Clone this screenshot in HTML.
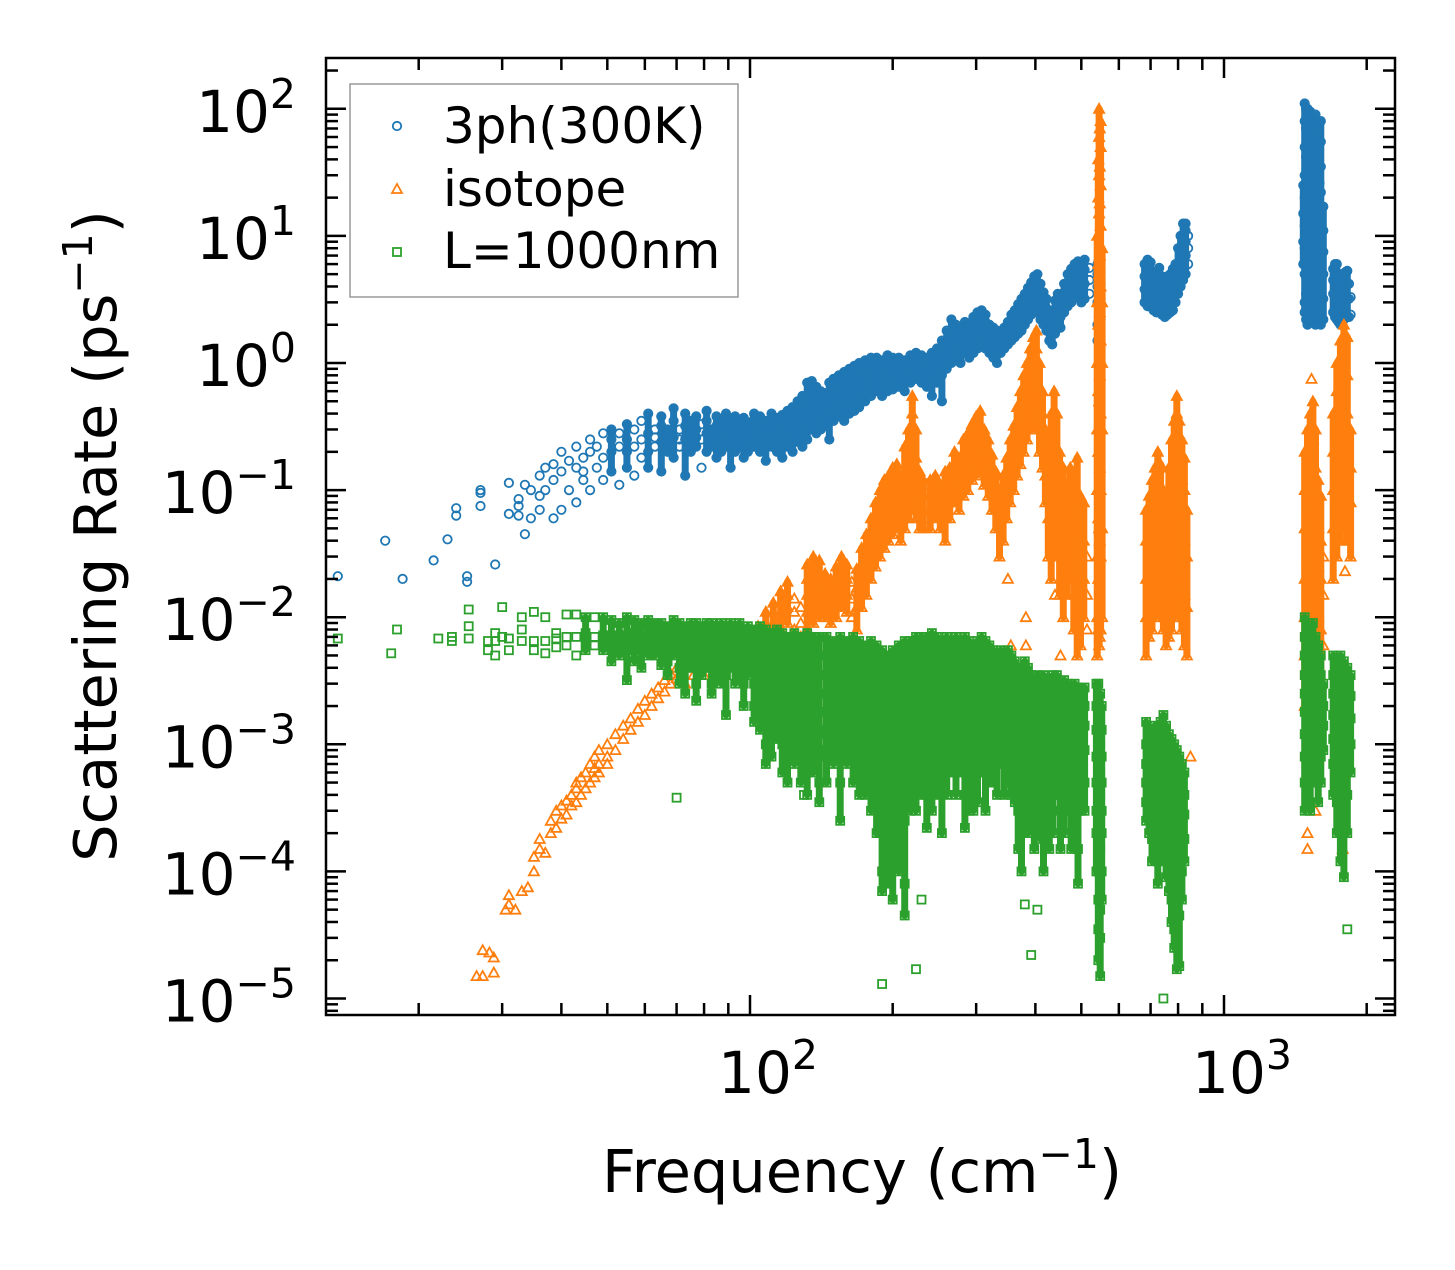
<!DOCTYPE html>
<html><head><meta charset="utf-8"><style>
html,body{margin:0;padding:0;background:#fff}
svg text{font-family:"DejaVu Sans","Liberation Sans",sans-serif;fill:#000}
</style></head><body>
<svg id="chart" width="1455" height="1265" viewBox="0 0 1455 1265" xmlns="http://www.w3.org/2000/svg">
<rect width="1455" height="1265" fill="#fff"/>
<g id="marks"></g>
<g id="axes"></g>
<g id="legend">
  <rect x="350" y="84" width="388" height="213" fill="#fff" fill-opacity="0.85" stroke="#999" stroke-width="1.5"/>
  <g>
    <circle cx="397" cy="126" r="4.2" fill="none" stroke="#1f77b4" stroke-width="1.8"/>
    <text x="443" y="143" font-size="50">3ph(300K)</text>
  </g>
  <g>
    <polygon points="397,184 392,193 402,193" fill="none" stroke="#ff7f0e" stroke-width="1.8"/>
    <text x="443" y="206" font-size="50">isotope</text>
  </g>
  <g>
    <rect x="393" y="248" width="8" height="8" fill="none" stroke="#2ca02c" stroke-width="1.8"/>
    <text x="443" y="268" font-size="50">L=1000nm</text>
  </g>
</g>
<text x="862" y="1192" font-size="59" text-anchor="middle">Frequency (cm<tspan dy="-24" font-size="41">−1</tspan><tspan dy="24">)</tspan></text>
<text transform="translate(116,536) rotate(-90)" font-size="59" text-anchor="middle">Scattering Rate (ps<tspan dy="-24" font-size="41">−1</tspan><tspan dy="24">)</tspan></text>
</svg>
<script>
// ---- data: [frequency, rate, rate, ...] rows ----
const threePhRows = [[13.5,0.021],[17,0.04],[18.5,0.02],[21.5,0.028],[23,0.041],[24,0.063,0.072],[25.3,0.021,0.019],[27,0.095,0.075,0.1],[29,0.026],[31,0.114,0.065],[32.5,0.063,0.075,0.085],[33.5,0.045,0.11],[34.5,0.06,0.1],[36,0.07,0.13,0.09],[37,0.15,0.1],[38.5,0.06,0.12,0.16],[40,0.07,0.14,0.2],[41.5,0.1,0.17],[43,0.08,0.15,0.22],[44.5,0.12,0.18,0.14],[46,0.1,0.2,0.25],[47.5,0.15,0.22],[49,0.12,0.18,0.28],[51,0.14,0.2,0.25,0.3],[53,0.11,0.22,0.28],[55,0.15,0.25,0.2,0.33],[57,0.13,0.22,0.3],[59,0.18,0.25,0.35],[61,0.2,0.28,0.15,0.4],[63,0.22,0.3,0.26],[65,0.14,0.24,0.32,0.38],[67,0.2,0.27,0.3,0.22],[69,0.18,0.26,0.35,0.44],[71,0.22,0.3,0.25],[73,0.13,0.25,0.32,0.4],[75,0.2,0.28,0.35,0.23],[77,0.22,0.3,0.26,0.38],[79,0.15,0.25,0.33],[81,0.2,0.28,0.35,0.42],[83,0.24,0.3,0.27,0.22],[85,0.18,0.26,0.32,0.38],[87,0.2,0.3,0.35,0.25],[89,0.22,0.28,0.33,0.4],[91,0.15,0.25,0.3,0.36],[93,0.2,0.27,0.32,0.38],[95,0.22,0.3,0.35,0.26],[97,0.18,0.26,0.31,0.37],[99,0.2,0.28,0.34,0.24],[102,0.22,0.3,0.36,0.4],[105,0.2,0.27,0.32,0.38],[108,0.17,0.25,0.3,0.35],[111,0.22,0.28,0.34,0.4],[114,0.2,0.26,0.32,0.37],[117,0.18,0.27,0.33,0.39],[120,0.22,0.3,0.36,0.42],[123,0.2,0.28,0.35,0.45],[126,0.24,0.3,0.38,0.5],[129,0.22,0.32,0.4,0.55],[132,0.25,0.35,0.45,0.7],[135,0.3,0.4,0.55,0.72],[138,0.28,0.4,0.5,0.65],[141,0.3,0.42,0.55,0.6],[144,0.32,0.45,0.5,0.58],[147,0.25,0.4,0.55,0.7],[150,0.35,0.48,0.6,0.75],[154,0.38,0.5,0.65,0.8],[158,0.35,0.52,0.68,0.85],[162,0.4,0.55,0.7,0.9],[166,0.42,0.6,0.75,0.95],[170,0.45,0.62,0.8,1.0],[175,0.5,0.7,0.85,1.05],[180,0.55,0.75,0.9,1.1],[185,0.6,0.8,0.95,1.1],[190,0.55,0.75,0.9,1.05],[195,0.6,0.8,1.0,1.15],[200,0.62,0.85,1.0,1.1],[206,0.65,0.8,0.95,1.1],[212,0.6,0.75,0.9,1.05],[218,0.7,0.85,1.0,1.15],[224,0.75,0.9,1.05,1.2],[230,0.7,0.85,1.0,1.15],[236,0.65,0.8,0.95,1.1],[242,0.55,0.75,0.9,1.2],[248,0.7,0.9,1.1,1.3],[254,0.5,0.8,1.2,1.5],[260,0.9,1.1,1.4,1.8],[266,1.0,1.2,1.5,2.2],[272,1.1,1.4,1.7,2.0],[278,1.0,1.3,1.6,1.9],[284,1.2,1.5,1.8,2.1],[290,1.1,1.4,1.7,2.0],[296,1.2,1.5,1.9,2.3],[302,1.3,1.6,2.0,2.5],[308,1.4,1.8,2.2,2.6],[314,1.3,1.7,2.1,2.4],[320,1.2,1.5,1.8,2.0],[326,1.1,1.4,1.7,1.9],[332,1.0,1.3,1.6,1.8],[338,1.2,1.4,1.6,1.7],[344,1.3,1.5,1.7,1.9],[350,1.4,1.6,1.9,2.1],[356,1.5,1.8,2.1,2.4],[362,1.6,1.9,2.3,2.6],[368,1.7,2.0,2.5,2.9],[374,1.8,2.2,2.7,3.2],[380,2.0,2.4,3.0,3.5],[386,2.2,2.7,3.3,3.9],[392,2.4,3.0,3.6,4.3],[398,2.6,3.3,4.0,4.8],[404,2.5,3.2,4.2,5.0],[410,2.2,2.8,3.5,4.2],[416,2.0,2.5,3.0,3.6],[422,1.8,2.2,2.7,3.2],[428,1.5,1.8,2.2,2.6],[434,1.4,1.7,2.0,2.3],[440,1.7,2.1,2.6,3.1],[446,2.0,2.5,3.0,3.5],[452,1.9,2.3,2.8,3.2],[460,2.5,3.0,3.6,4.2],[468,2.8,3.4,4.2,5.0],[476,3.0,3.8,4.6,5.5],[484,3.3,4.2,5.2,6.0],[492,3.5,4.5,5.5,6.3],[500,3.0,4.0,5.0,6.0],[508,3.2,4.2,5.4,6.5],[520,3.5,4.5,5.6],[541,1.5,2.0,3.0,4.0,5.0,6.0],[545,1.2,1.6,2.5,3.5,4.5,5.5],[549,1.4,2.2,3.2,4.2,5.2],[680,3,3.8,4.8,6],[690,2.8,3.5,4.5,5.5,6.5],[700,3,4,5,6.2],[710,2.6,3.3,4.2,5.2],[720,2.5,3.1,4,5],[730,2.8,3.6,4.5,5.6],[740,2.4,3,3.8,4.8],[750,2.3,2.9,3.6,4.6],[760,2.4,3,3.8,4.8],[770,2.5,3.2,4,5],[780,2.6,3.4,4.4,5.5],[790,3,4,5,6],[800,3.5,4.5,6,8],[810,4,5.5,7.5,10],[820,4.5,6,8,10,12.5],[830,5,7,9,11,12.5],[840,6,8,10],[1470,6,9,15,25],[1480,2.5,3,5,8,12,20,30,50,80,110],[1490,2.2,3.5,6,10,16,26,42,70,100],[1500,2,3,4,6,9,15,25,40,60,100],[1510,2.4,3.8,5.5,8,13,21,33,52,85],[1520,2.2,3.5,5,7,11,18,28,45,70,95],[1530,2.6,4.2,6.5,10,16,25,38,60],[1540,2.5,4,6,9,14,22,35,55,85],[1550,2.1,3.2,5,7.5,12,19,30,48,75],[1560,2,3,4.5,7,10,16,25,40,65,90],[1570,2.4,3.6,5.5,8.5,13,21,34],[1580,2.3,3.5,5,8,12,19,30,48,75],[1590,2.1,3,4.5,7,10,16,26],[1600,2,2.8,4,6,9,14,22,35,55,80],[1610,2.2,3.2,5,7.5,11],[1620,2.2,3.2,5,7.5,11,17],[1700,2.5,3.5,4.5,5.5],[1715,2.3,3.2,4.2,5.2,6],[1730,2.2,3,4,5,6],[1745,2.1,2.9,3.9,5],[1760,2,2.8,3.8,5],[1775,2.1,2.9,3.9,5],[1790,2.2,3,4,5],[1805,2.3,3.1,4.1,5.2],[1820,2.3,3.2,4.2,5.3],[1835,2.3,3.2,4.2],[1850,2.4,3.3]];

const isotopeRows = [[26.5,1.5e-5],[27.3,1.5e-5,2.4e-5],[28.2,2.3e-5],[28.8,1.6e-5,2.1e-5],[30.5,5e-5],[31,5.5e-5,6.5e-5],[32,5e-5],[33,7e-5],[34,7.5e-5],[35,1e-4,1.3e-4],[36,1.5e-4,1.8e-4],[37,1.4e-4],[38,2.5e-4,2e-4],[39,2.2e-4,3e-4],[40,3.3e-4,2.6e-4],[41,2.8e-4,3.6e-4],[42,4e-4,3.3e-4],[43,4.5e-4,3.5e-4,5e-4],[44,4e-4,5.5e-4],[45,6e-4,4.5e-4],[46,5e-4,7e-4],[47,5.5e-4,6.5e-4,8e-4],[48,7e-4,6e-4,9e-4],[50,8e-4,1e-3,7e-4],[52,9e-4,1.2e-3],[54,1.1e-3,1.4e-3],[56,1.3e-3,1.6e-3],[58,1.5e-3,1.9e-3],[60,1.7e-3,2.2e-3],[62,2e-3,2.5e-3],[64,2.3e-3,2.8e-3],[66,2.6e-3,3.2e-3],[68,3e-3,3.6e-3],[70,3.3e-3,4e-3],[73,3e-3,4e-3,4.5e-3],[76,3.5e-3,4.5e-3,5e-3],[80,3.5e-3,4.5e-3,5.5e-3],[84,4e-3,5e-3,6e-3],[88,4e-3,5e-3,6e-3,7e-3],[92,4.5e-3,5.5e-3,6.5e-3],[96,5e-3,6e-3,7e-3],[100,5e-3,6e-3,7.5e-3],[104,5.5e-3,7e-3,8.5e-3],[108,6e-3,7.5e-3,9e-3,1.1e-2],[112,7e-3,9e-3,1.1e-2,1.3e-2],[116,8e-3,1e-2,1.3e-2,1.6e-2],[120,9e-3,1.2e-2,1.5e-2,1.9e-2],[124,8e-3,1.1e-2,1.4e-2],[128,7e-3,9e-3,1.2e-2],[132,8e-3,1.1e-2,1.5e-2,2e-2,2.6e-2],[136,9e-3,1.3e-2,1.8e-2,2.4e-2,3e-2],[140,1e-2,1.4e-2,2e-2,2.8e-2],[144,1e-2,1.3e-2,1.7e-2,2.2e-2],[148,9e-3,1.2e-2,1.6e-2,2e-2],[152,1e-2,1.4e-2,1.9e-2,2.5e-2],[156,1.2e-2,1.7e-2,2.3e-2,3e-2],[160,1.1e-2,1.5e-2,2e-2,2.6e-2],[164,1e-2,1.4e-2,1.9e-2],[168,8e-3,1.2e-2,1.7e-2,2.4e-2],[172,1.2e-2,1.8e-2,2.6e-2,3.5e-2],[176,1.5e-2,2.2e-2,3.2e-2,4.5e-2],[180,2e-2,3e-2,4.2e-2,6e-2],[184,2.5e-2,3.8e-2,5.5e-2,8e-2],[188,3e-2,4.5e-2,6.5e-2,1e-1],[192,3.5e-2,5.5e-2,8e-2,1.2e-1],[196,4e-2,6e-2,9e-2,1.3e-1],[200,4.5e-2,7e-2,1e-1,1.5e-1],[204,5e-2,7.5e-2,1.1e-1,1.6e-1],[208,4e-2,6e-2,9e-2,1.3e-1],[212,5e-2,8e-2,1.3e-1,2.2e-1],[216,6e-2,1e-1,1.8e-1,3e-1],[220,7e-2,1.2e-1,2.2e-1,4e-1,5.5e-1],[224,6e-2,1e-1,1.8e-1,3e-1],[228,5e-2,7e-2,1e-1,1.4e-1],[232,5e-2,7e-2,9e-2,1.2e-1],[236,6e-2,8e-2,1.1e-1],[240,5e-2,7e-2,9e-2,1.2e-1],[246,6e-2,8e-2,1e-1,1.3e-1],[252,5e-2,7e-2,9e-2,1.1e-1],[258,4e-2,6e-2,8e-2,1.1e-1,1.4e-1],[264,6e-2,8e-2,1.1e-1,1.5e-1],[270,8e-2,1.1e-1,1.5e-1,2e-1],[276,7e-2,1e-1,1.4e-1,1.8e-1],[282,9e-2,1.3e-1,1.8e-1,2.5e-1],[288,1e-1,1.4e-1,2e-1,2.8e-1],[294,1.2e-1,1.7e-1,2.4e-1,3.3e-1],[300,1.3e-1,1.9e-1,2.7e-1,3.8e-1],[306,1.4e-1,2e-1,3e-1,4.2e-1],[312,1.1e-1,1.6e-1,2.2e-1,3e-1],[318,9e-2,1.3e-1,1.8e-1,2.5e-1],[324,7e-2,1e-1,1.4e-1,1.9e-1],[330,5e-2,7e-2,1e-1,1.4e-1],[336,3e-2,5e-2,7e-2,1e-1],[342,4e-2,6e-2,9e-2,1.3e-1],[348,6e-2,9e-2,1.3e-1,1.8e-1],[350,2e-2],[354,8e-2,1.2e-1,1.8e-1,2.5e-1],[355,6e-3],[360,1e-1,1.5e-1,2.2e-1,3.2e-1],[366,1.3e-1,2e-1,3e-1,4.5e-1],[372,1.6e-1,2.5e-1,4e-1,6e-1],[378,2e-1,3e-1,5e-1,8e-1],[382,6e-3,1e-2],[384,2.5e-1,4e-1,6.5e-1,1.0],[390,3e-1,5e-1,8e-1,1.3],[396,3.5e-1,6e-1,1.0,1.6],[402,3e-1,5e-1,8e-1,1.3,1.8],[408,2e-1,3.5e-1,6e-1,1.0],[414,1.5e-1,2.5e-1,4e-1,6e-1],[420,8e-2,1.3e-1,2e-1,3e-1],[426,3e-2,6e-2,1e-1,1.8e-1],[432,2e-2,4e-2,8e-2,2e-1,4e-1],[438,3e-2,6e-2,1.2e-1,3e-1,6e-1],[440,1.5e-2],[444,5e-2,1e-1,2e-1,4e-1],[450,1.5e-2,3e-2,6e-2,1.2e-1,2e-1],[452,5e-3],[458,1e-2,2e-2,4e-2,8e-2,1.5e-1],[466,1.5e-2,3e-2,6e-2,1.1e-1],[474,2e-2,4e-2,8e-2,1.5e-1],[482,8e-3,1.5e-2,3e-2,6e-2,1.2e-1],[490,5e-3,1e-2,2e-2,5e-2,1e-1,1.8e-1],[498,6e-3,1.2e-2,2.5e-2,5e-2,9e-2],[506,1e-2,2e-2,4e-2,8e-2],[514,8e-3,1.5e-2,3e-2],[540,5e-3,1e-2,3e-2,0.1,0.3,1,3,10],[543,8e-3,2e-2,6e-2,0.2,0.6,2,6,20,40],[545,6e-3,2e-2,5e-2,0.2,0.5,2,5,15,30,60,100],[547,7e-3,4e-2,0.15,0.8,2.5,7,18,35,70],[549,8e-3,3e-2,0.1,0.4,1.5,4,12,25,50,80],[553,1e-2,5e-2,0.3,1,3,8],[685,5e-3,1e-2,2e-2,4e-2,7e-2],[695,7e-3,1.5e-2,3e-2,6e-2,9e-2],[705,8e-3,1.8e-2,4e-2,8e-2,1.2e-1],[715,1e-2,2e-2,5e-2,1e-1,1.5e-1],[720,7e-4,5e-4],[725,1.2e-2,2.5e-2,6e-2,1.2e-1,2e-1],[735,1e-2,2e-2,5e-2,1e-1,1.6e-1],[735,6e-4],[745,8e-3,1.5e-2,3e-2,6e-2,1e-1],[755,6e-3,1.2e-2,2.5e-2,5e-2,8e-2],[765,7e-3,1.5e-2,3.5e-2,8e-2,1.5e-1],[775,8e-3,2e-2,5e-2,1.2e-1,2.5e-1],[785,1e-2,2.5e-2,6e-2,1.5e-1,3.5e-1],[795,1.2e-2,3e-2,8e-2,2e-1,4e-1,5.5e-1],[805,1e-2,2.5e-2,6e-2,1.5e-1,3.5e-1],[815,8e-3,2e-2,5e-2,1.2e-1,2.5e-1],[825,6e-3,1.5e-2,4e-2,1e-1,1.8e-1],[835,5e-3,1.2e-2,3e-2,7e-2],[850,8e-4],[1480,2e-3,5e-3,1e-2,2e-2,5e-2,1e-1,2e-1],[1500,3e-3,8e-3,1.5e-2,3e-2,7e-2,1.5e-1,3e-1],[1500,2e-4,1.5e-4],[1520,4e-3,1e-2,2e-2,4e-2,9e-2,2e-1,4e-1],[1530,0.75],[1540,3e-3,8e-3,1.8e-2,4e-2,1e-1,2.5e-1,5e-1],[1560,5e-3,1.2e-2,3e-2,7e-2,1.5e-1,3e-1],[1560,3e-4],[1580,4e-3,1e-2,2.5e-2,5e-2,1.2e-1],[1600,3e-3,8e-3,2e-2,4e-2,9e-2],[1620,6e-3,1.5e-2,3e-2],[1700,0.02,0.05,0.1,0.2,0.4],[1730,0.03,0.07,0.15,0.3,0.6,1],[1760,0.04,0.1,0.2,0.4,0.8,1.5],[1780,1.5e-4],[1790,0.05,0.12,0.25,0.5,1,2],[1800,0.023],[1810,0.06,0.04],[1820,0.04,0.1,0.2,0.4,0.8,1.6],[1850,0.03,0.08,0.15,0.3]];

const boundaryRows = [[13.5,6.8e-3],[17.5,5.2e-3],[18,8e-3],[22,6.8e-3],[23.5,6.5e-3,7e-3],[25.5,1.15e-2,6.8e-3,8.5e-3],[28,6.5e-3,5.5e-3],[29,5e-3,7.5e-3,6.5e-3],[30,1.2e-2,7e-3],[31,5.5e-3,6.8e-3],[33,1e-2,6.5e-3,8e-3],[35,1.1e-2,6.5e-3,5.5e-3],[37,6.5e-3,5.2e-3,1e-2],[39,6.8e-3,7.5e-3,5.8e-3],[41,1.05e-2,7e-3,6e-3],[43,1.05e-2,7e-3,5e-3],[45,1e-2,6.5e-3,5.5e-3,7.5e-3],[47,1e-2,7e-3,6e-3],[49,1e-2,7.2e-3,5.5e-3,6.5e-3],[51,9.5e-3,7e-3,5.8e-3,4.5e-3],[53,9e-3,7.2e-3,6e-3,5e-3],[55,1e-2,7e-3,5.5e-3,3.2e-3],[57,9.5e-3,7.5e-3,6e-3,4.5e-3],[59,9e-3,7e-3,5.5e-3,4e-3],[61,9.5e-3,7e-3,6e-3,5e-3],[63,9e-3,7.5e-3,6.5e-3,5e-3],[65,9e-3,7e-3,5.5e-3,4.2e-3],[67,8.5e-3,7e-3,6e-3,4.5e-3,3.5e-3],[69,9.5e-3,7.5e-3,6e-3,5e-3],[70,3.8e-4],[71,9e-3,7e-3,5.5e-3,4e-3,3e-3],[73,8.5e-3,7e-3,6e-3,5e-3,2.5e-3],[75,9e-3,7.5e-3,6.5e-3,5e-3,4e-3],[77,9e-3,7e-3,5.5e-3,4e-3,3e-3,2.2e-3],[79,8.5e-3,7e-3,6e-3,4.5e-3,3.5e-3],[81,9e-3,7.5e-3,6e-3,5e-3,4e-3],[83,9e-3,7e-3,5.5e-3,4e-3,3e-3,2.5e-3],[85,8.5e-3,7e-3,6e-3,5e-3,3.5e-3],[87,9e-3,7.5e-3,6e-3,4.5e-3,3e-3],[89,8.5e-3,7e-3,5.5e-3,4e-3,3.5e-3,1.7e-3],[91,9e-3,7e-3,6e-3,5e-3,4e-3],[93,8.5e-3,7e-3,5.5e-3,4.5e-3,3e-3],[95,9e-3,7.5e-3,6e-3,5e-3,3.5e-3],[97,8e-3,6.5e-3,5e-3,4e-3,3e-3,2e-3],[99,8.5e-3,7e-3,5.5e-3,4.5e-3,3.5e-3],[102,8e-3,6.5e-3,5e-3,4e-3,3e-3,2e-3,1.5e-3],[105,8.5e-3,6.5e-3,5e-3,4e-3,3e-3,2.2e-3,1.3e-3],[108,8e-3,6e-3,4.5e-3,3.5e-3,2.5e-3,1.8e-3,1e-3,7e-4],[111,7.5e-3,6e-3,4.5e-3,3.5e-3,2.5e-3,1.8e-3,1.2e-3,8e-4],[114,8e-3,6e-3,4.5e-3,3.5e-3,2.5e-3,1.7e-3,1.1e-3],[117,7.5e-3,5.5e-3,4e-3,3e-3,2.2e-3,1.5e-3,1e-3,6e-4],[120,7e-3,5.5e-3,4e-3,3e-3,2.2e-3,1.5e-3,1e-3,5e-4],[124,7.5e-3,5.5e-3,4e-3,3e-3,2.2e-3,1.6e-3,1.1e-3,7e-4],[128,7e-3,5e-3,3.8e-3,2.8e-3,2e-3,1.4e-3,9e-4,5e-4],[130,4e-4],[132,7.5e-3,5.5e-3,4e-3,3e-3,2.2e-3,1.5e-3,1e-3,6e-4,4e-4],[136,7e-3,5e-3,3.8e-3,2.8e-3,2e-3,1.4e-3,9e-4,6e-4],[140,7e-3,5e-3,3.5e-3,2.5e-3,1.8e-3,1.3e-3,9e-4,5e-4,3.5e-4],[145,7e-3,5e-3,3.5e-3,2.5e-3,1.8e-3,1.2e-3,8e-4,5e-4],[150,6.5e-3,4.5e-3,3.2e-3,2.3e-3,1.6e-3,1.1e-3,7e-4],[155,7e-3,5e-3,3.5e-3,2.5e-3,1.8e-3,1.2e-3,8e-4,5e-4,2.5e-4],[160,6.5e-3,4.5e-3,3.2e-3,2.3e-3,1.6e-3,1.1e-3,7e-4],[165,7e-3,5e-3,3.5e-3,2.5e-3,1.7e-3,1.2e-3,8e-4,5e-4],[170,6.5e-3,4.5e-3,3.2e-3,2.2e-3,1.5e-3,1e-3,7e-4,4e-4],[175,6e-3,4.5e-3,3.2e-3,2.3e-3,1.6e-3,1.1e-3,7e-4,4e-4],[180,6.5e-3,4.5e-3,3.2e-3,2.2e-3,1.5e-3,1e-3,6e-4,3e-4],[185,6e-3,4.2e-3,3e-3,2.1e-3,1.4e-3,9e-4,5e-4,2e-4],[190,5.5e-3,4e-3,2.8e-3,1.9e-3,1.2e-3,7e-4,4e-4,2e-4,1e-4,7e-5],[190,1.3e-5],[195,5e-3,3.5e-3,2.4e-3,1.6e-3,1e-3,6e-4,3e-4,1.5e-4,8e-5],[200,5.5e-3,4e-3,2.8e-3,1.8e-3,1.1e-3,6e-4,3e-4,1.5e-4,6e-5],[206,6e-3,4.2e-3,3e-3,2e-3,1.3e-3,8e-4,4e-4,2e-4,1e-4],[212,6.5e-3,4.5e-3,3.2e-3,2.2e-3,1.4e-3,9e-4,5e-4,2.5e-4,8e-5,4.5e-5],[218,6.5e-3,4.5e-3,3.2e-3,2.2e-3,1.5e-3,1e-3,6e-4,3e-4],[224,7e-3,5e-3,3.5e-3,2.4e-3,1.6e-3,1e-3,6e-4,3e-4],[224,1.7e-5],[230,7e-3,5e-3,3.5e-3,2.5e-3,1.7e-3,1.1e-3,7e-4,4e-4],[230,6e-5],[236,7e-3,5e-3,3.5e-3,2.5e-3,1.7e-3,1.1e-3,7e-4,4e-4,2.2e-4],[242,7.5e-3,5.5e-3,4e-3,2.8e-3,1.9e-3,1.2e-3,8e-4,5e-4,3e-4],[248,7e-3,5e-3,3.5e-3,2.5e-3,1.7e-3,1.1e-3,7e-4,4e-4],[254,6.5e-3,4.5e-3,3.2e-3,2.2e-3,1.5e-3,9e-4,5e-4,2e-4],[260,7e-3,5e-3,3.5e-3,2.5e-3,1.7e-3,1.1e-3,7e-4,4e-4],[266,6.5e-3,4.5e-3,3.2e-3,2.2e-3,1.5e-3,1e-3,6e-4],[272,7e-3,5e-3,3.5e-3,2.5e-3,1.7e-3,1.1e-3,7e-4,4e-4],[278,6.5e-3,4.5e-3,3.2e-3,2.3e-3,1.6e-3,1e-3,6e-4],[284,7e-3,5e-3,3.5e-3,2.5e-3,1.7e-3,1.1e-3,7e-4,4e-4,2.2e-4],[290,6.5e-3,4.5e-3,3.2e-3,2.2e-3,1.5e-3,9e-4,5e-4,3e-4],[296,6e-3,4.2e-3,3e-3,2e-3,1.3e-3,8e-4,5e-4,3e-4],[302,6.5e-3,4.5e-3,3.2e-3,2.2e-3,1.5e-3,1e-3,6e-4,3.5e-4],[308,7e-3,5e-3,3.5e-3,2.5e-3,1.7e-3,1.1e-3,7e-4],[314,6.5e-3,4.5e-3,3.2e-3,2.3e-3,1.6e-3,1e-3,6e-4,3e-4],[320,6e-3,4.2e-3,3e-3,2.1e-3,1.4e-3,9e-4,5e-4],[326,5.5e-3,4e-3,2.8e-3,1.9e-3,1.3e-3,8e-4,5e-4],[332,5e-3,3.5e-3,2.5e-3,1.7e-3,1.1e-3,7e-4,4e-4],[338,5.5e-3,4e-3,2.8e-3,1.9e-3,1.2e-3,8e-4],[344,5e-3,3.5e-3,2.5e-3,1.7e-3,1.1e-3,7e-4,4e-4],[350,5.5e-3,4e-3,2.8e-3,1.9e-3,1.3e-3,8e-4,5e-4],[356,5e-3,3.5e-3,2.5e-3,1.7e-3,1.1e-3,7e-4,4e-4],[362,4.5e-3,3.2e-3,2.2e-3,1.5e-3,1e-3,6e-4,3.5e-4],[368,4e-3,3e-3,2e-3,1.3e-3,8e-4,5e-4,3e-4,1.5e-4],[374,4e-3,2.8e-3,1.9e-3,1.2e-3,7e-4,4e-4,2e-4,1e-4],[380,4.5e-3,3.2e-3,2.2e-3,1.5e-3,9e-4,5e-4,2.5e-4],[380,5.5e-5],[386,4e-3,2.8e-3,1.9e-3,1.2e-3,7e-4,4e-4,2e-4],[392,3.5e-3,2.5e-3,1.7e-3,1.1e-3,6e-4,3e-4],[392,2.2e-5],[398,3e-3,2.2e-3,1.5e-3,1e-3,6e-4,3e-4,1.5e-4],[404,3.5e-3,2.5e-3,1.7e-3,1.1e-3,7e-4,4e-4,2e-4],[404,5e-5],[410,3e-3,2.2e-3,1.5e-3,1e-3,6e-4,3.5e-4,1.8e-4],[416,3.5e-3,2.5e-3,1.7e-3,1.1e-3,7e-4,4e-4,2e-4,1e-4],[422,3e-3,2.2e-3,1.5e-3,1e-3,6e-4,3.5e-4],[428,3.2e-3,2.3e-3,1.6e-3,1e-3,6e-4,3e-4,1.5e-4],[436,3.5e-3,2.5e-3,1.7e-3,1.1e-3,7e-4,4e-4,2e-4],[444,3.5e-3,2.5e-3,1.7e-3,1.1e-3,7e-4,4e-4],[452,3e-3,2.2e-3,1.5e-3,1e-3,6e-4,3e-4,1.5e-4],[460,3.2e-3,2.3e-3,1.6e-3,1.1e-3,7e-4,4e-4,2e-4],[468,3e-3,2.2e-3,1.5e-3,1e-3,6e-4,3.5e-4],[476,2.8e-3,2e-3,1.4e-3,9e-4,5e-4,3e-4,1.5e-4],[484,3e-3,2.2e-3,1.5e-3,1e-3,6e-4,3.5e-4,2e-4],[492,2.8e-3,2e-3,1.4e-3,9e-4,5e-4,3e-4,1.5e-4,8e-5],[500,2.5e-3,1.8e-3,1.2e-3,8e-4,5e-4,3e-4],[508,2.8e-3,2e-3,1.4e-3,9e-4,5e-4,3e-4],[538,3e-3,2e-3,1.3e-3,8e-4,5e-4,3e-4,2e-4,1e-4],[543,3e-3,2e-3,1.3e-3,8e-4,5e-4,3e-4,1.8e-4,1e-4,6e-5,3.5e-5,2e-5],[548,2.5e-3,1.6e-3,1e-3,6e-4,4e-4,2.5e-4,1.5e-4,8e-5,5e-5,3e-5,1.5e-5],[552,2e-3,1.3e-3,8e-4,5e-4,3e-4,2e-4,1e-4,6e-5],[685,1.5e-3,1e-3,7e-4,5e-4,3.5e-4,2.5e-4],[695,1.3e-3,9e-4,6e-4,4e-4,3e-4,2e-4],[705,1.2e-3,8e-4,5.5e-4,4e-4,2.8e-4,1.8e-4,1.2e-4],[715,1.4e-3,1e-3,7e-4,5e-4,3.5e-4,2.5e-4],[725,1.2e-3,8e-4,5.5e-4,3.8e-4,2.6e-4,1.8e-4,1.2e-4,8e-5],[735,1.5e-3,1e-3,7e-4,5e-4,3.5e-4,2.4e-4,1.6e-4],[745,1.7e-3,1.2e-3,8e-4,5.5e-4,3.8e-4,2.6e-4,1.8e-4,1.2e-4],[745,1e-5],[755,1.4e-3,1e-3,7e-4,5e-4,3.5e-4,2.3e-4,1.5e-4,9e-5],[765,1.2e-3,8e-4,5.5e-4,3.8e-4,2.5e-4,1.6e-4,1e-4,7e-5],[775,1.1e-3,7.5e-4,5e-4,3.5e-4,2.3e-4,1.5e-4,1e-4,6e-5,4e-5],[785,1e-3,7e-4,4.8e-4,3.3e-4,2.2e-4,1.4e-4,9e-5,5.5e-5,3.5e-5,2.5e-5],[795,9e-4,6.5e-4,4.5e-4,3e-4,2e-4,1.3e-4,8e-5,5e-5,3e-5,1.7e-5],[805,8e-4,5.5e-4,3.8e-4,2.6e-4,1.7e-4,1.1e-4,7e-5,4.5e-5,1.8e-5],[815,7e-4,5e-4,3.5e-4,2.4e-4,1.6e-4,1e-4,6e-5],[825,6e-4,4e-4,2.8e-4,1.8e-4,1.2e-4],[1480,1e-2,7e-3,5e-3,3.5e-3,2.5e-3,1.8e-3,1.2e-3,8e-4,5e-4,3e-4],[1500,9e-3,6e-3,4e-3,3e-3,2e-3,1.4e-3,1e-3,7e-4],[1520,8e-3,5.5e-3,3.8e-3,2.6e-3,1.8e-3,1.2e-3,8e-4,5e-4,3e-4],[1540,9e-3,6.5e-3,4.5e-3,3.2e-3,2.2e-3,1.5e-3,1e-3],[1560,7e-3,5e-3,3.5e-3,2.4e-3,1.7e-3,1.2e-3,8e-4,5e-4],[1580,6e-3,4.2e-3,3e-3,2e-3,1.4e-3,9e-4,6e-4,3.5e-4],[1600,5e-3,3.5e-3,2.5e-3,1.7e-3,1.2e-3,8e-4,5e-4],[1620,3e-3,2e-3,1.4e-3,9e-4],[1700,5e-3,3.5e-3,2.5e-3,1.7e-3,1.1e-3,7e-4,4e-4],[1730,4.5e-3,3.2e-3,2.2e-3,1.5e-3,1e-3,6e-4,3.5e-4,2e-4],[1760,5e-3,3.5e-3,2.4e-3,1.6e-3,1e-3,6e-4,3e-4,1.2e-4],[1790,4.5e-3,3e-3,2e-3,1.3e-3,8e-4,5e-4,2.5e-4,9e-5],[1820,4e-3,2.8e-3,1.9e-3,1.2e-3,7e-4,4e-4,2e-4],[1820,3.5e-5],[1850,3.5e-3,2.4e-3,1.6e-3,1e-3,6e-4]];

const xTickExps = [2, 3];
const yTickExps = [-5, -4, -3, -2, -1, 0, 1, 2];

// ---- axes ----
const PL = 326, PR = 1395, PT = 58, PB = 1015;
const X0 = 750, XD = 474;     // pixel of 10^2, pixels per decade
const Y0 = 363, YD = 127.1;   // pixel of 10^0
function xs(f){ return X0 + (Math.log10(f) - 2) * XD; }
function ys(v){ return Y0 - Math.log10(v) * YD; }

const NS = 'http://www.w3.org/2000/svg';
function mk(tag, attrs, parent){
  const e = document.createElementNS(NS, tag);
  for (const k in attrs) e.setAttribute(k, attrs[k]);
  parent.appendChild(e);
  return e;
}
const marks = document.getElementById('marks');
const axes = document.getElementById('axes');
const defs = mk('defs', {}, marks);
const cp = mk('clipPath', {id:'clip'}, defs);
mk('rect', {x:PL, y:PT, width:PR-PL, height:PB-PT}, cp);

function drawSeries(rows, kind, color, name){
  const g = mk('g', {'clip-path':'url(#clip)', fill:'none', stroke:color, 'stroke-width':'1.8'}, marks);
  
  
  rows.forEach(row => {
    const x = xs(row[0]);
    const vals = row.slice(1);
    if (vals.length >= 4){
      const ymin = ys(Math.max(...vals)), ymax = ys(Math.min(...vals));
      const band = mk('line', {x1:x.toFixed(1), x2:x.toFixed(1), y1:ymin.toFixed(1), y2:ymax.toFixed(1), 'stroke-width':'7', 'stroke-linecap':'round'}, g);
      
      
    }
    vals.forEach(v => {
      const y = ys(v);
      let m;
      if (kind === 'circle') m = mk('circle', {cx:x.toFixed(1), cy:y.toFixed(1), r:4.2}, g);
      else if (kind === 'tri') m = mk('polygon', {points:`${x.toFixed(1)},${(y-5).toFixed(1)} ${(x-5).toFixed(1)},${(y+4).toFixed(1)} ${(x+5).toFixed(1)},${(y+4).toFixed(1)}`}, g);
      else m = mk('rect', {x:(x-4).toFixed(1), y:(y-4).toFixed(1), width:8, height:8}, g);
      
      
    });
  });
}
drawSeries(threePhRows, 'circle', '#1f77b4', 'series-3ph');
drawSeries(isotopeRows, 'tri', '#ff7f0e', 'series-isotope');
drawSeries(boundaryRows, 'square', '#2ca02c', 'series-boundary');

// frame
const frame = mk('rect', {x:PL, y:PT, width:PR-PL, height:PB-PT, fill:'none', stroke:'#000', 'stroke-width':'2.5'}, axes);



// x ticks
for (let e = 1; e <= 3; e++){
  for (let m = 1; m <= 9; m++){
    const f = m * Math.pow(10, e);
    const x = xs(f);
    if (x < PL || x > PR) continue;
    const len = m === 1 ? 20 : 12;
    const t1 = mk('line', {x1:x, x2:x, y1:PB, y2:PB-len, stroke:'#000', 'stroke-width':'2.5'}, axes);
    
    
    const t2 = mk('line', {x1:x, x2:x, y1:PT, y2:PT+len, stroke:'#000', 'stroke-width':'2.5'}, axes);
    
    
  }
}
xTickExps.forEach(e => {
  const x = xs(Math.pow(10, e));
  const t = mk('text', {x:x+18, y:1093, 'font-size':'58', 'text-anchor':'middle'}, axes);
  
  
  t.innerHTML = `10<tspan dy="-24" font-size="41">${e}</tspan>`;
});
// y ticks
for (let e = -6; e <= 2; e++){
  for (let m = 1; m <= 9; m++){
    const v = m * Math.pow(10, e);
    const y = ys(v);
    if (y < PT || y > PB) continue;
    const len = m === 1 ? 20 : 12;
    const t1 = mk('line', {x1:PL, x2:PL+len, y1:y, y2:y, stroke:'#000', 'stroke-width':'2.5'}, axes);
    
    
    const t2 = mk('line', {x1:PR, x2:PR-len, y1:y, y2:y, stroke:'#000', 'stroke-width':'2.5'}, axes);
    
    
  }
}
yTickExps.forEach(e => {
  const y = ys(Math.pow(10, e));
  const lab = e < 0 ? '−' + (-e) : String(e);
  const t = mk('text', {x:296, y:y+23, 'font-size':'58', 'text-anchor':'end'}, axes);
  
  
  t.innerHTML = `10<tspan dy="-24" font-size="41">${lab}</tspan>`;
});
</script>
</body></html>
